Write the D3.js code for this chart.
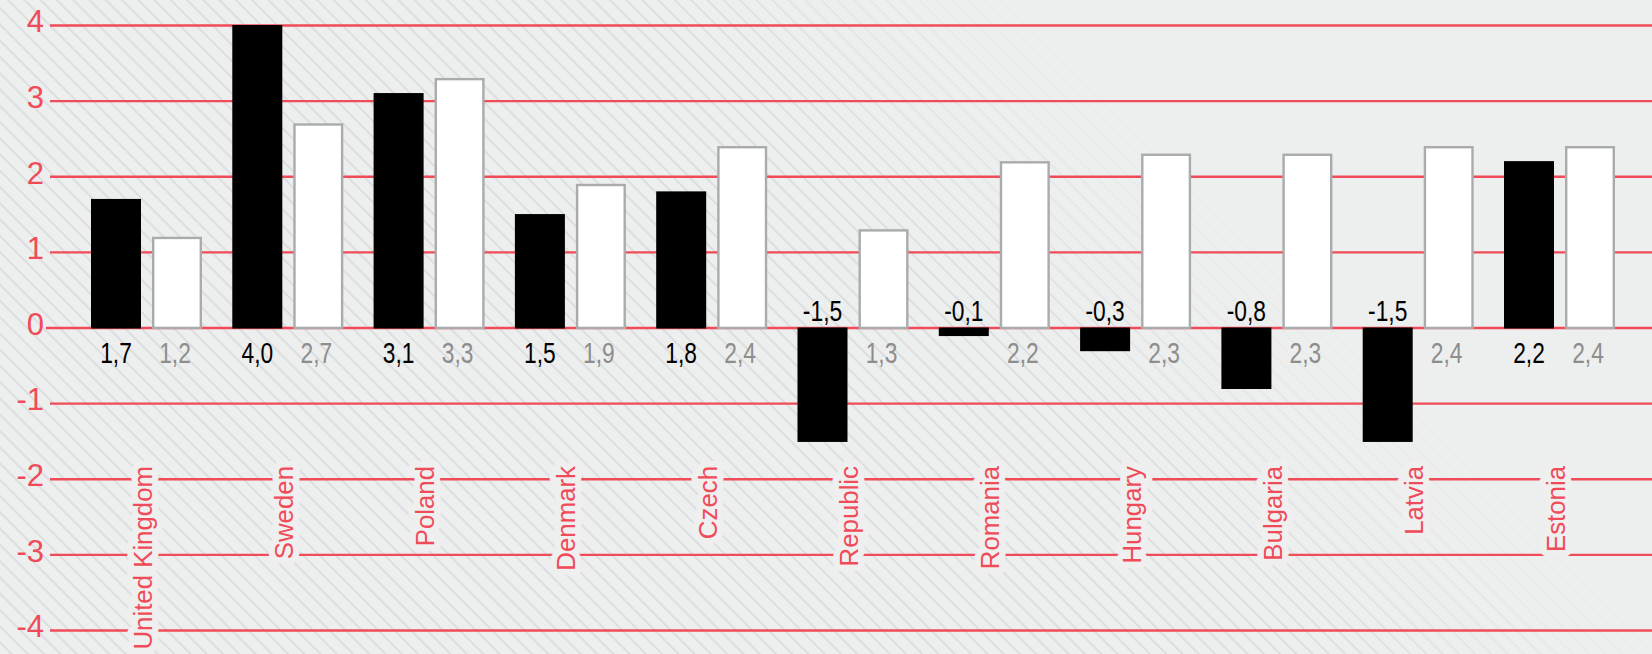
<!DOCTYPE html>
<html>
<head>
<meta charset="utf-8">
<script src="https://cdn.jsdelivr.net/npm/d3@7/dist/d3.min.js"></script>
<style>
  html, body { margin: 0; padding: 0; background: #edeeee; }
  svg { display: block; }
  text { font-family: "Liberation Sans", Arial, sans-serif; }
</style>
</head>
<body>
<svg id="chart" width="1652" height="654"></svg>
<script>
// Category labels along the bottom
const categories = ["United Kingdom", "Sweden", "Poland", "Denmark", "Czech", "Republic",
                    "Romania", "Hungary", "Bulgaria", "Latvia", "Estonia"];
// First series (black bars)
const seriesBlack = [1.7, 4.0, 3.1, 1.5, 1.8, -1.5, -0.1, -0.3, -0.8, -1.5, 2.2];
// Second series (white bars)
const seriesWhite = [1.2, 2.7, 3.3, 1.9, 2.4, 1.3, 2.2, 2.3, 2.3, 2.4, 2.4];
// Value axis ticks
const yTicks = [4, 3, 2, 1, 0, -1, -2, -3, -4];

const W = 1652, H = 654;
const RED = "#ef4b59", BG = "#edeeee";

const locale = d3.formatLocale({ decimal: ",", thousands: ".", grouping: [3], currency: ["", ""], minus: "-" });
const fmtVal = locale.format(".1f");
const fmtTick = locale.format("d");

const svg = d3.select("#chart");
const defs = svg.append("defs");

// diagonal hatch, fading towards the upper right
const HS = 11.5;
const pat = defs.append("pattern")
  .attr("id", "hatch").attr("patternUnits", "userSpaceOnUse")
  .attr("width", HS).attr("height", HS)
  .attr("patternTransform", "rotate(45)");
pat.append("line").attr("x1", 0).attr("x2", HS).attr("y1", HS / 2).attr("y2", HS / 2)
  .attr("stroke", "#dcdddf").attr("stroke-width", 1.9);

const grad = defs.append("linearGradient").attr("id", "fade")
  .attr("gradientUnits", "userSpaceOnUse")
  .attr("x1", 330).attr("y1", -330).attr("x2", 510).attr("y2", -510);
grad.append("stop").attr("offset", 0).attr("stop-color", "#fff");
grad.append("stop").attr("offset", 1).attr("stop-color", "#000");
defs.append("mask").attr("id", "fadeMask").attr("maskUnits", "userSpaceOnUse")
  .attr("x", 0).attr("y", 0).attr("width", W).attr("height", H)
  .append("rect").attr("width", W).attr("height", H).attr("fill", "url(#fade)");

svg.append("rect").attr("width", W).attr("height", H).attr("fill", BG);
svg.append("rect").attr("width", W).attr("height", H)
  .attr("fill", "url(#hatch)").attr("mask", "url(#fadeMask)");

// scales
const y = d3.scaleLinear().domain([-4, 4]).range([630, 25]);
const x0 = d3.scaleBand().domain(categories).range([75.85, 1630.15])
  .paddingInner(0.2144).paddingOuter(0.1072);
const x1 = d3.scaleBand().domain(["black", "white"]).range([0, x0.bandwidth()])
  .paddingInner(11 / 61).paddingOuter(0);

// value axis with full-width gridlines
const axisX = 50;
const yAxis = d3.axisLeft(y).tickValues(yTicks).tickFormat(fmtTick)
  .tickSize(-(W - axisX)).tickPadding(6);
const gAxis = svg.append("g").attr("transform", `translate(${axisX},0)`).call(yAxis);
gAxis.select(".domain").remove();
gAxis.selectAll(".tick line").attr("stroke", RED).attr("stroke-width", 2.4)
  .attr("x1", d => d === 0 ? -4 : 0);
gAxis.selectAll(".tick text")
  .attr("fill", RED).attr("font-size", 31).attr("dy", "0.22em")
  .style("font-family", '"Liberation Sans", Arial, sans-serif');

const rows = categories.map((c, i) => ({ c, black: seriesBlack[i], white: seriesWhite[i] }));

const groups = svg.append("g").selectAll("g").data(rows).join("g")
  .attr("transform", d => `translate(${x0(d.c)},0)`);

// black bars
groups.append("rect")
  .attr("x", x1("black")).attr("width", x1.bandwidth())
  .attr("y", d => Math.min(y(d.black), y(0)))
  .attr("height", d => Math.abs(y(d.black) - y(0)) + 1)
  .attr("fill", "#000");

// white bars with grey outline
groups.append("rect")
  .attr("x", x1("white") + 1.2).attr("width", x1.bandwidth() - 2.4)
  .attr("y", d => y(d.white) + 1.2)
  .attr("height", d => y(0) - y(d.white) - 0.8)
  .attr("fill", "#fff").attr("stroke", "#a9abad").attr("stroke-width", 2.4);

// value labels (condensed)
groups.append("text")
  .attr("transform", d => `translate(${x1("black") + x1.bandwidth() / 2},${d.black < 0 ? y(0) - 7 : y(0) + 35}) scale(0.76,1)`)
  .attr("text-anchor", "middle").attr("font-size", 30).attr("fill", "#000")
  .text(d => fmtVal(d.black));
groups.append("text")
  .attr("transform", d => `translate(${x1("white") + x1.bandwidth() / 2 - 2},${y(0) + 35}) scale(0.76,1)`)
  .attr("text-anchor", "middle").attr("font-size", 30).attr("fill", "#8d8d8d")
  .text(d => fmtVal(d.white));

// rotated category labels with a soft halo
groups.append("text")
  .attr("transform", d => `translate(${x0.bandwidth() / 2 + 5},466) rotate(-90)`)
  .attr("text-anchor", "end").attr("font-size", 25.8)
  .attr("fill", RED).attr("stroke", "#efefef").attr("stroke-width", 13)
  .attr("stroke-linejoin", "round").attr("paint-order", "stroke")
  .text(d => d.c);
</script>
</body>
</html>
